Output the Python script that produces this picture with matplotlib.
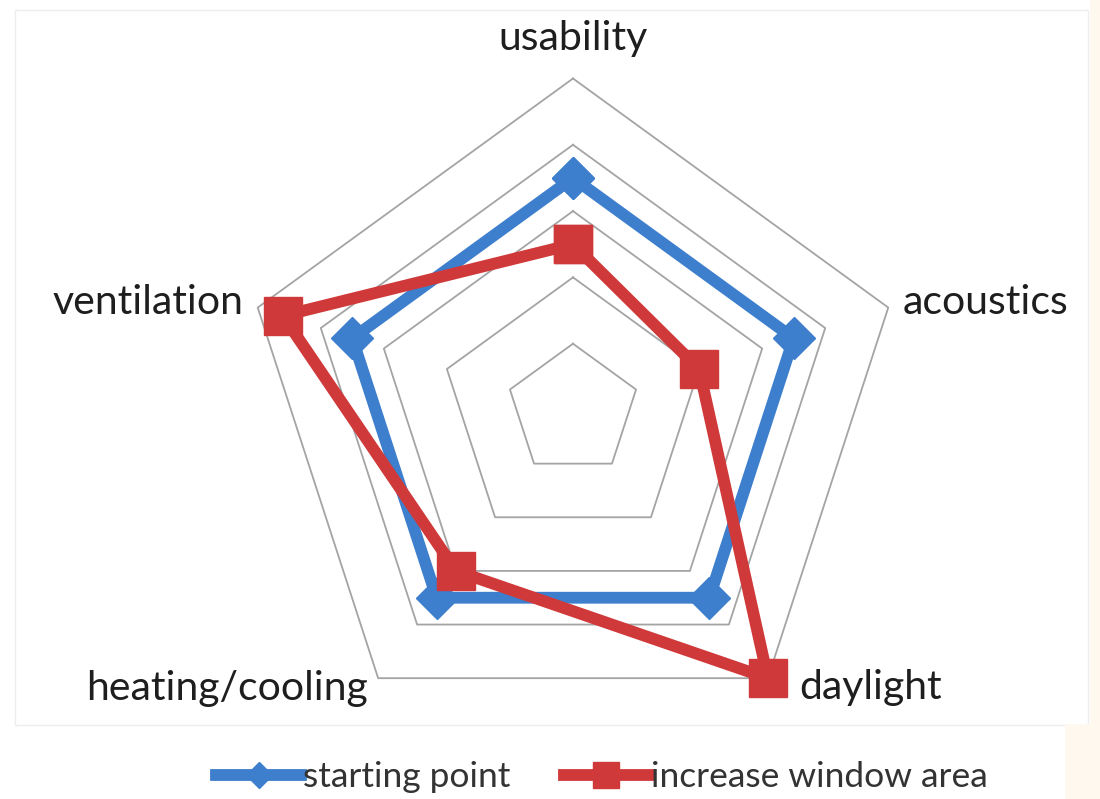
import numpy as np
import matplotlib
matplotlib.use("Agg")
import matplotlib.pyplot as plt
from matplotlib import font_manager
from matplotlib.patches import Rectangle

# Criteria around the radar, clockwise from the top
categories = ["usability", "acoustics", "daylight", "heating/cooling", "ventilation"]
starting_point = [3.5, 3.5, 3.5, 3.5, 3.5]
increase_window_area = [2.5, 2.0, 5.0, 3.0, 4.6]
series_names = ["starting point", "increase window area"]
grid_levels = [1, 2, 3, 4, 5]

BLUE = "#3d7ecd"
RED = "#d0393a"
GRID = "#a4a4a4"
TEXT = "#1e1e1e"


def pick_font(candidates):
    available = {f.name for f in font_manager.fontManager.ttflist}
    for name in candidates:
        if name in available:
            return name
    return "DejaVu Sans"


label_font = pick_font(["Lato", "Open Sans", "DejaVu Sans"])
legend_font = pick_font(["Liberation Sans Narrow", "DejaVu Sans Condensed", "Lato"])

W, H = 1100, 799
fig = plt.figure(figsize=(W / 100, H / 100), dpi=100)
fig.patch.set_facecolor("white")

# faint chart-area border and warm page edge
fig.patches.append(Rectangle((15 / W, 1 - 725 / H), 1073 / W, 715 / H,
                             transform=fig.transFigure, fill=False,
                             edgecolor="#ededed", linewidth=1.0))
fig.patches.append(Rectangle((1090 / W, 0), 10 / W, 1,
                             transform=fig.transFigure, facecolor="#fff8ee",
                             edgecolor="none"))
fig.patches.append(Rectangle((1065 / W, 0), 35 / W, 75 / H,
                             transform=fig.transFigure, facecolor="#fff8ee",
                             edgecolor="none"))

cx, cy, R = 573, 410, 331.5
ax = fig.add_axes([(cx - R) / W, 1 - (cy + R) / H, 2 * R / W, 2 * R / H],
                  projection="polar")
ax.set_theta_offset(np.pi / 2)
ax.set_theta_direction(-1)
ax.set_ylim(0, 5)
ax.set_facecolor("none")
ax.grid(False)
ax.spines["polar"].set_visible(False)
ax.set_xticks([])
ax.set_yticks([])

n = len(categories)
angles = np.linspace(0, 2 * np.pi, n, endpoint=False)
closed = np.append(angles, angles[0])

# pentagon gridlines
for lv in grid_levels:
    ax.plot(closed, [lv] * (n + 1), color=GRID, lw=1.3, zorder=1,
            clip_on=False)


def closed_vals(v):
    return list(v) + [v[0]]


l1, = ax.plot(closed, closed_vals(starting_point), color=BLUE, lw=8.5,
              marker="D", markersize=21, markerfacecolor=BLUE,
              markeredgecolor=BLUE, solid_joinstyle="round", zorder=3,
              clip_on=False, label=series_names[0])
l2, = ax.plot(closed, closed_vals(increase_window_area), color=RED, lw=8.5,
              marker="s", markersize=28, markerfacecolor=RED,
              markeredgecolor=RED, solid_joinstyle="round", zorder=4,
              clip_on=False, label=series_names[1])

# category labels (compass angle in degrees, radius, alignment)
label_pos = {
    "usability": (0, 5.61, "center"),
    "acoustics": (72, 5.23, "left"),
    "daylight": (140.8, 5.41, "left"),
    "heating/cooling": (216.4, 5.21, "right"),
    "ventilation": (288, 5.23, "right"),
}
for cat in categories:
    deg, r, ha = label_pos[cat]
    ax.text(np.deg2rad(deg), r, cat, ha=ha, va="center", fontsize=29.5,
            family=label_font, color=TEXT, clip_on=False)

leg = fig.legend(handles=[l1, l2], labels=series_names, loc="center",
                 bbox_to_anchor=(602 / W, 1 - 777 / H), ncol=2, frameon=False,
                 handlelength=2.4, handletextpad=0.06, columnspacing=1.5,
                 markerscale=0.65,
                 prop=font_manager.FontProperties(family=legend_font, size=25.5))
for t in leg.get_texts():
    t.set_color("#333333")

fig.savefig("out.png", dpi=100, facecolor="white")
